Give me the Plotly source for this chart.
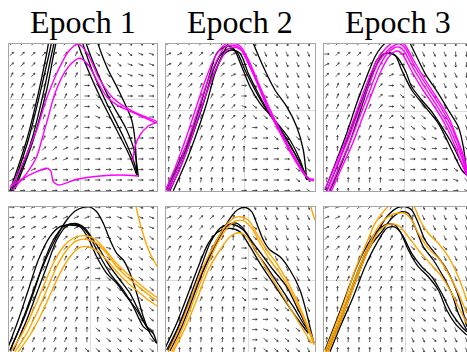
import math
import plotly.graph_objects as go

TITLES = ["Epoch 1", "Epoch 2", "Epoch 3"]

# ---------------- data (panel units, x from left edge, y from bottom edge) -------------
E1_TRUE = [
    [(1,0.3),(17.7,51),(29.3,97.7),(37.7,137.7),(44.3,171),(56,187.7),(64.3,167.7),(67.7,151),(77.7,124.3),(91,94.3),(107.7,61),(121,34.3),(127.7,16)],
    [(2.7,0.3),(19.3,51),(31,97.7),(41,141),(47.7,171),(59.3,184),(69.3,164),(72.7,151),(84.3,117.7),(97.7,87.7),(114.3,54.3),(124.3,31),(128.3,16)],
    [(4.3,1),(22.7,51),(34.3,97.7),(44.3,144.3),(51,171),(62.7,181),(72.7,164.3),(76,151),(86,124.3),(101,91),(117.7,61),(126,37.7),(129.3,14.3)],
    [(6,1.7),(24.3,51),(37.7,101),(47.7,151),(56,177.7),(71,187.7),(82.7,167.7),(87.7,151),(97.7,124.3),(111,97.7),(122.7,71),(126,51),(127.7,17.7)],
]
E1_PRED = [
    [(1,2.7),(7.7,14.3),(16,32.7),(27.7,61),(37.7,92.7),(49.3,121),(59.3,139.3),(69.3,147),(78.3,137.7),(91,111),(104.3,92.7),(124.3,79.3),(137.7,73.7),(147.7,69.3),(139.3,65),(131,56),(126,44.3),(123.7,29.3)],
    [(3.7,1),(17.7,17.7),(27.7,34.3),(32.7,51),(39.3,74.3),(46,97.7),(56,119.3),(64.3,129.3),(71,132.7),(79.3,126),(87.7,111),(97.7,94.3),(111,84.3),(127.7,77),(147.7,67.7)],
    [(1,4.3),(14.3,12.7),(27.7,19.3),(37.7,22.7),(41.7,20.3),(44.3,9.3),(49.3,6),(67.7,11.7),(91,15),(111,16),(129.3,15)],
]
E2_TRUE = [
    [(0.7,1),(14,31),(24,54.3),(34,84.3),(44,117.7),(50.7,137.7),(60.7,145),(67.3,142.7),(75.7,124.3),(84,104.3),(94,87.7),(104,76),(114,64.3),(124,51),(134,31),(140.7,11)],
    [(4,0.3),(17.3,31),(27.3,57.7),(37.3,87.7),(47.3,121),(55.7,137.7),(64,142.7),(70.7,139.3),(79,121),(89,101),(100.7,81),(117.3,57.7),(130.7,34.3),(140.7,12.7)],
    [(7.3,0.3),(20.7,31),(30.7,57.7),(40.7,87.7),(49,117.7),(57.3,136),(65.7,141),(74,137.7),(82.3,117.7),(94,94.3),(107.3,71),(120.7,51),(134,27.7),(142.3,11)],
    [(2.3,1),(14,27.7),(24,51),(34,77.7),(44,107.7),(54,131),(64,151),(74,167.7),(82.3,161),(87.3,147.7),(97.3,124.3),(109,101),(120.7,84.3),(130.7,64.3),(137.3,41),(140.7,11)],
]
E2_PRED = [
    [(0,2),(9,23),(19,50),(29,80),(39,110),(49,134),(58,146),(65,148),(74,145),(83,130),(92,109),(102,86),(115,59),(128,35),(138,18),(143,12),(148,10)],
    [(1,0),(11,21),(21,48),(31,78),(41,108),(51,131),(59,144),(66,146),(74,143),(82,128),(91,108),(101,84),(114,58),(127,34),(137,18),(142,13),(148,11)],
    [(3,0),(13,20),(23,46),(33,76),(43,105),(53,128),(61,141),(67,144),(75,141),(84,126),(93,105),(103,82),(116,56),(129,32),(139,16),(144,12),(148,12)],
]
E3_TRUE = [
    [(2.7,0.3),(14.3,27.7),(24.3,54.3),(34.3,81),(44.3,107.7),(52.7,131),(59.3,137),(66,137.7),(72.7,134.3),(81,121),(87.7,104.3),(97.7,91),(107.7,79.3),(117.7,64.3),(127.7,47.7),(137.7,27.7),(142.7,17.7)],
    [(6,0.3),(17.7,27.7),(27.7,54.3),(37.7,84.3),(47.7,114.3),(56,132.7),(64.3,138.3),(71,136),(77.7,121),(87.7,101),(101,84.3),(114.3,67.7),(127.7,41),(137.7,21),(142.7,16)],
    [(1,1),(12.7,31),(22.7,57.7),(32.7,87.7),(42.7,114.3),(51,134.3),(57.7,144.3),(64.3,151),(74.3,164.3),(84.3,151),(91,137.7),(101,117.7),(114.3,97.7),(124.3,81),(134.3,64.3),(139.3,44.3),(142.7,17.7)],
]
E3_PRED = [
    [(1,2),(13,30),(23,54),(33,81),(43,108),(53,131),(62,143),(70,149),(76,150),(81,146),(90,130),(102,110),(115,90),(125,73),(133,53),(140,34),(143,19)],
    [(3,0),(14,28),(24,51),(34,78),(44,104),(54,128),(63,140),(71,146),(76,147),(81,143),(89,128),(101,108),(114,88),(124,71),(133,51),(139,33),(143,18)],
    [(5,0),(16,26),(26,49),(36,75),(46,101),(55,124),(63,137),(70,143),(75,144),(80,140),(88,125),(100,105),(113,85),(123,68),(132,48),(139,30),(143,16)],
    [(7,-1),(18,24),(28,46),(38,72),(48,98),(57,120),(64,133),(70,139),(74,140),(79,136),(87,121),(99,101),(112,82),(122,65),(131,45),(138,27),(143,15)],
]
E4_TRUE = [
    [(1,3.3),(11,27.3),(21,54),(31,80.7),(44.3,110.7),(57.7,134),(67.7,144),(79.3,147.3),(87.7,142.3),(94.3,130.7),(101,114),(107.7,100.7),(114.3,94),(121,80.7),(127.7,60.7),(134.3,37.3),(141,20.7),(147.7,10.7)],
    [(1,4),(14.3,34),(24.3,60.7),(34.3,90.7),(44.3,114),(54.3,127.3),(61,130),(69.3,130),(76,125.7),(84.3,114),(91,104),(101,87.3),(111,74),(121,60.7),(129.3,44),(137.7,27.3),(144.3,20.7),(147.7,10.7)],
    [(4.3,3.3),(17.7,34),(27.7,60.7),(37.7,87.3),(47.7,114),(57.7,128),(66,130),(72.7,127.3),(81,117.3),(89.3,100.7),(101,80.7),(114.3,64),(124.3,47.3),(134.3,27.3),(141,22.3)],
    [(-0.7,7.3),(9.3,34),(19.3,64),(29.3,94),(41,117.3),(51,127.3),(61,129),(71,127.3),(79.3,115.7),(87.7,97.3),(97.7,80.7),(107.7,70.7),(117.7,57.3),(127.7,44),(137.7,27.3),(144.3,20.7)],
]
E4_PRED = [
    [(2.7,3.3),(14.3,22.3),(24.3,44),(34.3,67.3),(44.3,90.7),(54.3,107.3),(66,116.7),(76,118.3),(86,115),(96,104.7),(106,92.3),(117.7,80.7),(127.7,72.3),(137.7,64),(148.3,56.3)],
    [(6,2.3),(17.7,20.7),(27.7,40.7),(37.7,64),(47.7,87.3),(57.7,104),(67.7,113.3),(77.7,114.7),(87.7,110.7),(97.7,100.7),(107.7,87.3),(117.7,77.3),(127.7,69),(137.7,60.7),(148.3,53)],
    [(9.3,2.3),(21,19),(31,37.3),(41,59),(51,80.7),(61,97.3),(71,106.7),(79.3,107.3),(89.3,102.3),(99.3,92.3),(109.3,80.7),(119.3,70.7),(129.3,62.3),(139.3,54),(148.3,48)],
    [(127,148),(131,130.7),(136,114),(141,100.7),(148.3,87.3)],
]
E5_TRUE = [
    [(2.3,3.3),(14,30.7),(27.3,60.7),(40.7,90.7),(54,117.3),(64,135.7),(72.3,144.7),(79,146.7),(85.7,142.3),(90.7,130.7),(97.3,114),(104,104),(114,97.3),(124,84),(134,64),(140.7,40.7),(144.7,24),(148,10.7)],
    [(0.7,4),(12.3,27.3),(24,57.3),(34,84),(44,110.7),(54,125.7),(60.7,129),(69,129),(77.3,124),(87.3,110.7),(97.3,97.3),(107.3,84),(120.7,67.3),(130.7,47.3),(140.7,27.3),(145.7,17.3)],
    [(4,3.3),(15.7,27.3),(27.3,57.3),(37.3,84),(47.3,107.3),(57.3,124),(65.7,130.7),(72.3,130),(80.7,120.7),(89,104),(100.7,87.3),(114,67.3),(127.3,47.3),(137.3,30.7),(145.7,19)],
    [(-1,5.7),(10.7,30.7),(22.3,60.7),(32.3,87.3),(42.3,110.7),(52.3,122.3),(64,125.7),(74,122.3),(84,107.3),(94,90.7),(107.3,70.7),(120.7,50.7),(132.3,34),(142.3,20.7)],
]
E5_PRED = [
    [(2.3,2.3),(14,27.3),(25.7,57.3),(37.3,87.3),(49,110.7),(59,127.3),(67.3,135.7),(74,137.3),(82.3,134),(90.7,120.7),(100.7,104),(110.7,90.7),(120.7,74),(130.7,54),(140.7,30.7),(148,12.3)],
    [(5.7,2.3),(17.3,27.3),(29,57.3),(40.7,87.3),(52.3,112.3),(62.3,127.3),(70.7,133.3),(77.3,133.3),(85.7,125.7),(94,110.7),(104,94),(114,80.7),(124,64),(134,44),(142.3,24),(148,9)],
    [(7.3,2.3),(19,25.7),(30.7,54),(42.3,84),(54,104),(64,117.3),(72.3,121.3),(79,119),(87.3,107.3),(97.3,90.7),(107.3,74),(117.3,57.3),(127.3,40.7),(137.3,24),(145.7,10.7)],
    [(144.7,148),(146.7,140.7),(149,134)],
]
E6_TRUE = [
    [(2.7,3.3),(14.3,30.7),(24.3,57.3),(34.3,84),(44.3,107.3),(54.3,124),(64.3,139),(74.3,146.7),(81,147.3),(87.7,144),(94.3,130.7),(101,114),(111,100.7),(121,87.3),(131,67.3),(137.7,47.3),(142.7,27.3)],
    [(4.3,3.3),(16,30.7),(26,57.3),(36,84),(46,107.3),(57.7,122.3),(67.7,135.7),(77.7,142.3),(84.3,140.7),(91,127.3),(99.3,107.3),(109.3,94),(119.3,77.3),(127.7,60.7),(134.3,40.7),(142.7,24)],
    [(1,4),(12.7,34),(22.7,60.7),(32.7,87.3),(44.3,110.7),(56,125.7),(64.3,130),(71,129),(79.3,117.3),(87.7,100.7),(97.7,87.3),(107.7,77.3),(117.7,60.7),(127.7,40.7),(137.7,27.3),(142.7,22.3)],
    [(6,2.3),(17.7,30.7),(29.3,57.3),(41,87.3),(52.7,110.7),(62.7,125.7),(69.3,127.3),(76,122.3),(84.3,104),(94.3,87.3),(104.3,77.3),(114.3,64),(122.7,44),(131,30.7),(142.7,19)],
]
E6_PRED = [
    [(1,2.3),(11,27.3),(21,54),(31,84),(41,107.3),(51,130.7),(59.3,142.3),(66,149),(74.3,154),(82.7,155.7),(89.3,149),(96,134),(104.3,120.7),(114.3,110.7),(124.3,97.3),(134.3,77.3),(142.7,54)],
    [(2.7,2.3),(14.3,30.7),(24.3,57.3),(34.3,84),(44.3,107.3),(54.3,127.3),(64.3,137.3),(72.7,140.7),(81,140.7),(87.7,134),(94.3,120.7),(104.3,105.7),(116,94),(126,77.3),(136,57.3),(142.7,40.7)],
    [(4.3,2.3),(16,30.7),(26,57.3),(36,84),(46,107.3),(56,124),(62.7,129),(69.3,130),(76,127.3),(84.3,117.3),(94.3,104),(106,90.7),(117.7,77.3),(127.7,60.7),(137.7,40.7),(142.7,30.7)],
]

# vector-field directions read per arrow (rows top -> bottom)
E1_FIELD = ["bbbbbbcdeeeeed","bbbbbbcdeeeedd","bbbbbccdeeeddd","cbbbbcc-eeeddd","ccbbccc-eedd-d",
            "ccccccb-eed---","ccccccb-ed----","cccccbb-dd----","cccccbb-d-----","ccccbba-------",
            "cccbbaa-------","cbbaaa--------","baaa----------","aa------------","--------------"]
E2_FIELD = ["aabbbb--ffffff","aabbbba-efffff","abbbbba-efffff","bbbbbba-eeffff","bbbcccb-eeefff",
            "cccccbb-eeefff","cccccbbdeeeeff","ccccccbbeeeeff","|cccccbb-eeeef","|ccccccb--eeef",
            "||ccccc|---eef","||cccc||----ef","|||cc|||----ee","|||||||-----ee","|||||||------e"]
E3_FIELD = ["-bbbbba-fffvvv","-bbbbba-ffffvv","abbbbba-efffvv","bbbbbba-eefffv","bcccbb-eeeffff",
            "ccccbb-eeeefff","cccccb-eeeefff","ccccccbeeeeeff","|ccccc-eeeeeef","||cccc-eeedeef",
            "|||ccc-ddd--ee","||||c|-d----ee","||||||-d----ee","||||||------de","||||||-------d"]
E4_FIELD = ["--aaaaaa---ddd","-aaaaaaa--dddd","aaaaaaa---eddd","abbbbbba-deeee","bbcccbbb-deeee",
            "ccccccbb-eeeee","ccccccba-eeeee","cccccccb-eeeee","ccccccc|beeeee","ccccccc||eeeee",
            "ccccccc|ceeeee","ccccccc||eeeee","cccccc||eeeeee","cccccc||eeeeee","cccccc|eeeeeee"]
E5_FIELD = ["abbbbbc|ffffff","abbbbbc|ffffff","bbbbbcc|efffff","bbbccc||efffff","bcccccc-efffff",
            "cccccc|-eeffff","cccccc|-eeefff","cccccc|e-eefff","|ccccc|e-eefff","|||ccc|e--efff",
            "||||||||-deeff","||||||||--eeff","||||||||-deeef","||||||||-eeeef","|||||||||eeeef"]
E6_FIELD = ["aabbbbcc|fffff","aabbbbcc|fffff","abbbbccc|fffff","bbbbcccceeffff","bbcccccceeeeff",
            "ccccccc|eeefff","ccccccc|eeefff","|cccccc|eeefff","||cccc||eeefff","||||||||eeffff",
            "||||||||eeffff","||||||||eeefff","||||||||feefff","||||||||ffefff","||||||||ffffff"]

GRID_X = [71, 78, 80.3, 81.7, 82.3, 81.7]
GRID_Y = [92, 80.3, 79.3, 74, 74, 74]

TRUE_SETS = [E1_TRUE, E2_TRUE, E3_TRUE, E4_TRUE, E5_TRUE, E6_TRUE]
PRED_SETS = [E1_PRED, E2_PRED, E3_PRED, E4_PRED, E5_PRED, E6_PRED]
FIELDS = [E1_FIELD, E2_FIELD, E3_FIELD, E4_FIELD, E5_FIELD, E6_FIELD]

# ---------------- styling / layout ----------------
W, H = 467, 352
PRED_COLORS = ["#ff00ff"] * 3 + ["#ffa500"] * 3
ANG = {'-': 0, 'a': 25, 'b': 45, 'c': 65, '|': 88, 'd': -20, 'e': -40, 'f': -65, 'v': -88}
COL_LEFT = [9, 166, 324]
COL_W = [148, 149, 143]
ROW_TOP = [44, 207]
ROW_BOT = [191, 352]
Y_RANGES = [(0, 147), (2, 147)]

fig = go.Figure()
layout = dict(width=W, height=H, margin=dict(l=0, r=0, t=0, b=0, pad=0),
              paper_bgcolor="white", plot_bgcolor="white", showlegend=False)
annotations = []

ARROW_L = 5.0
HEAD_L = 1.8

for p in range(6):
    r, c = divmod(p, 3)
    ax = "" if p == 0 else str(p + 1)
    xref, yref = "x" + ax, "y" + ax
    x0p = COL_LEFT[c]
    x1p = x0p + COL_W[c]
    dom_x = [x0p / W, min(x1p / W, 1.0)]
    dom_y = [(H - ROW_BOT[r]) / H, (H - ROW_TOP[r]) / H]
    yr = Y_RANGES[r]
    layout["xaxis" + ax] = dict(domain=dom_x, range=[0, COL_W[c]], anchor=yref,
                                showticklabels=False, ticks="", zeroline=False,
                                tickvals=[GRID_X[p]], showgrid=True, gridcolor="#dcdcdc", gridwidth=1,
                                showline=True, linecolor="#a6a6a6", linewidth=1,
                                mirror=(r == 0), side=("bottom" if r == 0 else "top"))
    layout["yaxis" + ax] = dict(domain=dom_y, range=list(yr), anchor=xref,
                                showticklabels=False, ticks="", zeroline=False,
                                tickvals=[GRID_Y[p]], showgrid=True, gridcolor="#dcdcdc", gridwidth=1,
                                showline=True, linecolor="#a6a6a6", linewidth=1, mirror=True)

    # vector field
    field = FIELDS[p]
    nrows = len(field)
    if r == 0:
        ys = [0.5 + 10.5 * k for k in range(nrows)]
    else:
        ys = [4 + 10.2 * k for k in range(nrows)]
    xs = [2.7 + 10.75 * k for k in range(len(field[0]))]
    AX, AY = [], []
    for j, row in enumerate(field):
        yc = ys[nrows - 1 - j]
        for i, ch in enumerate(row):
            xc = xs[i]
            t = math.radians(ANG[ch])
            dx, dy = ARROW_L * math.cos(t), ARROW_L * math.sin(t)
            tx, ty = xc - dx / 2, yc - dy / 2
            hx, hy = xc + dx / 2, yc + dy / 2
            AX += [tx, hx, None]
            AY += [ty, hy, None]
            for s in (1, -1):
                a = t + math.pi + s * math.radians(30)
                AX += [hx, hx + HEAD_L * math.cos(a), None]
                AY += [hy, hy + HEAD_L * math.sin(a), None]
    fig.add_trace(go.Scatter(x=AX, y=AY, mode="lines", xaxis=xref, yaxis=yref,
                             line=dict(color="#333333", width=0.8), hoverinfo="skip"))

    for curve in TRUE_SETS[p]:
        fig.add_trace(go.Scatter(x=[q[0] for q in curve], y=[q[1] for q in curve], mode="lines",
                                 xaxis=xref, yaxis=yref, hoverinfo="skip",
                                 line=dict(color="black", width=1.3, shape="spline", smoothing=0.8)))
    for curve in PRED_SETS[p]:
        fig.add_trace(go.Scatter(x=[q[0] for q in curve], y=[q[1] for q in curve], mode="lines",
                                 xaxis=xref, yaxis=yref, hoverinfo="skip",
                                 line=dict(color=PRED_COLORS[p], width=1.4, shape="spline", smoothing=0.8)))

for c in range(3):
    cx = (COL_LEFT[c] + 148 / 2) / W
    annotations.append(dict(text=TITLES[c], x=cx, y=(H - 22) / H, xref="paper", yref="paper",
                            xanchor="center", yanchor="middle", showarrow=False,
                            font=dict(family="Liberation Serif", size=32, color="black")))

layout["annotations"] = annotations
layout["hovermode"] = False
fig.update_layout(**layout)
fig.write_html("out.html", config={"displayModeBar": False},
               post_script="document.body.style.margin='0px';document.body.style.overflow='hidden';")
